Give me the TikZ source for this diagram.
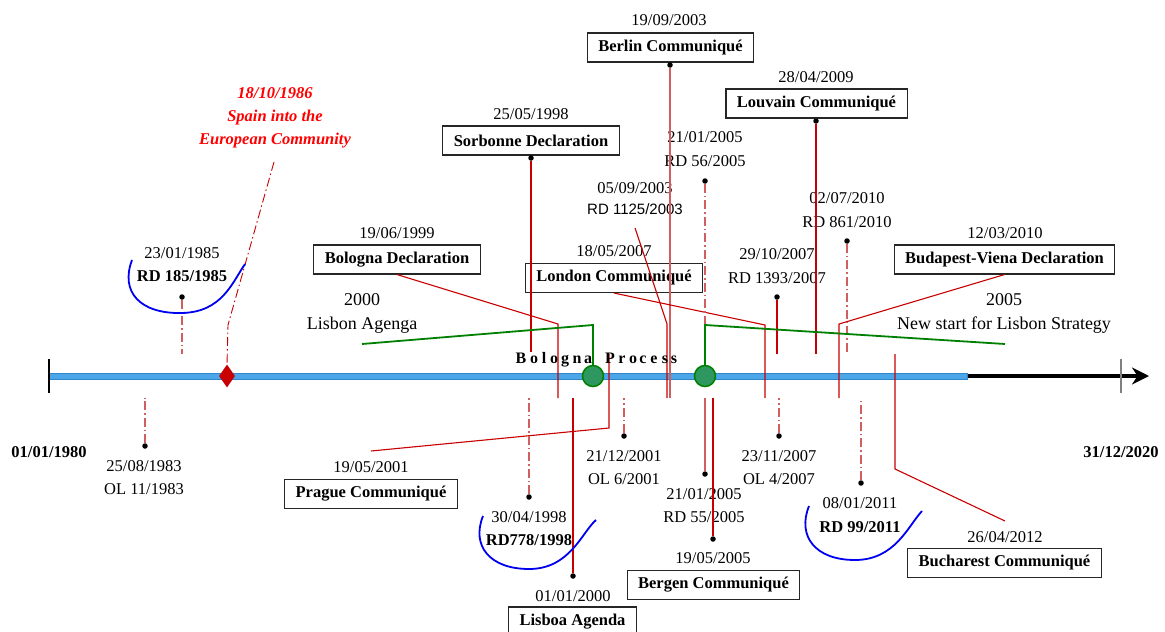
\documentclass[tikz,border=0pt]{standalone}
\usepackage{fontspec}
\setmainfont{Liberation Serif}
\newfontfamily\arialf{Liberation Sans}
\usetikzlibrary{arrows.meta,shapes.geometric}
\definecolor{dred}{RGB}{200,0,0}
\definecolor{lred}{RGB}{210,95,95}
\definecolor{barblue}{RGB}{77,166,232}
\definecolor{barborder}{RGB}{45,135,205}
\definecolor{gline}{RGB}{0,128,0}
\definecolor{gfill}{RGB}{46,150,95}
\definecolor{arcblue}{RGB}{0,0,240}
\begin{document}
\begin{tikzpicture}[x=1pt,y=-1pt,
  lbl/.style={font=\fontsize{16.5}{20}\selectfont, inner sep=0pt},
  blbl/.style={font=\fontsize{16.5}{20}\selectfont\bfseries, inner sep=0pt},
  big/.style={font=\fontsize{18}{22}\selectfont, inner sep=0pt},
  slbl/.style={font=\arialf\fontsize{15}{18}\selectfont, inner sep=0pt},
  bbox/.style={draw=black!85, line width=1.1pt, fill=white, font=\fontsize{16.5}{20}\selectfont\bfseries, inner xsep=11pt, inner ysep=0pt, minimum height=29pt},
  dot/.style={circle, fill=black, inner sep=0pt, minimum size=5.5pt},
  conn/.style={draw=dred, line width=1.1pt},
  connl/.style={draw=lred, line width=1.7pt},
  dd/.style={draw=lred, line width=1.3pt, dash pattern=on 9pt off 3pt on 1.5pt off 3pt},
  ddk/.style={draw=dred, line width=0.9pt, dash pattern=on 9pt off 3pt on 1.5pt off 3pt},
  gl/.style={draw=gline, line width=1.8pt},
  gcirc/.style={circle, fill=gfill, draw=gline, line width=1.5pt, minimum size=21pt, inner sep=0pt},
  arc/.style={draw=arcblue, line width=1.8pt},
  bp/.style={font=\fontsize{16}{18}\selectfont\bfseries, inner sep=0pt, anchor=base}
]
\useasboundingbox (0,0) rectangle (1165,632);
\fill[white] (0,0) rectangle (1165,632);

% axis
\coordinate (axB) at (967,376);
\coordinate (axE) at (1149,376);
\draw[line width=3.5pt, -{Stealth[length=17pt,width=17pt]}] (axB) -- (axE);
\draw[fill=barblue, draw=barborder, line width=0.8pt] (49,373) rectangle (967,379);
\draw[line width=1.4pt] (49,359) -- (49,393);
\draw[gray, line width=2pt] (1121,359) -- (1121,393);

% end labels
\node[blbl] (start) at (49,452) {01/01/1980};
\node[blbl] (end) at (1121,452) {31/12/2020};

% boxes and dates
\node[bbox] (berlin) at (670.5,47.5) {Berlin Communiqué};
\node[lbl] (tberlin) at (669,20) {19/09/2003};
\node[bbox] (sorb) at (531,140.5) {Sorbonne Declaration};
\node[lbl] (tsorb) at (531,114) {25/05/1998};
\node[bbox] (bol) at (397,259.5) {Bologna Declaration};
\node[lbl] (tbol) at (397,233) {19/06/1999};
\node[bbox] (lon) at (614,278) {London Communiqué};
\node[lbl] (tlon) at (614,251) {18/05/2007};
\node[bbox] (lou) at (816.5,103.5) {Louvain Communiqué};
\node[lbl] (tlou) at (816,77) {28/04/2009};
\node[bbox] (bud) at (1004.5,259.5) {Budapest-Viena Declaration};
\node[lbl] (tbud) at (1005,233) {12/03/2010};
\node[bbox] (pra) at (371,494) {Prague Communiqué};
\node[lbl] (tpra) at (371,467) {19/05/2001};
\node[bbox] (lis) at (572.5,621.5) {Lisboa Agenda};
\node[lbl] (tlis) at (573,596) {01/01/2000};
\node[bbox] (ber) at (713.5,585) {Bergen Communiqué};
\node[lbl] (tber) at (713,558) {19/05/2005};
\node[bbox] (buc) at (1004.5,563) {Bucharest Communiqué};
\node[lbl] (tbuc) at (1005,537) {26/04/2012};

% other annotations
\node[lbl] (a185a) at (182,253) {23/01/1985};
\node[blbl] (a185b) at (182,276) {RD 185/1985};
\node[lbl] (a1983a) at (144,466) {25/08/1983};
\node[lbl] (a1983b) at (144,489) {OL 11/1983};
\node[lbl] (a1998a) at (529,517) {30/04/1998};
\node[blbl] (a1998b) at (529,540) {RD778/1998};
\node[lbl] (a2001a) at (624,456) {21/12/2001};
\node[lbl] (a2001b) at (624,479) {OL 6/2001};
\node[lbl] (a55a) at (704,494) {21/01/2005};
\node[lbl] (a55b) at (704,517) {RD 55/2005};
\node[lbl] (a56a) at (705,137) {21/01/2005};
\node[lbl] (a56b) at (705,161) {RD 56/2005};
\node[lbl] (a1125a) at (635,188) {05/09/2003};
\node[slbl] (a1125b) at (635,209) {RD 1125/2003};
\node[lbl] (a1393a) at (777,254) {29/10/2007};
\node[lbl] (a1393b) at (777,278) {RD 1393/2007};
\node[lbl] (a4a) at (779,456) {23/11/2007};
\node[lbl] (a4b) at (779,479) {OL 4/2007};
\node[lbl] (a861a) at (847,198) {02/07/2010};
\node[lbl] (a861b) at (847,222) {RD 861/2010};
\node[lbl] (a99a) at (860,503) {08/01/2011};
\node[blbl] (a99b) at (860,527) {RD 99/2011};

\node[big] (y2000) at (362,300) {2000};
\node[big] (lisbon) at (362,325) {Lisbon Agenga};
\node[big] (y2005) at (1004,300) {2005};
\node[big] (newstart) at (1004,325) {New start for Lisbon Strategy};

\node[font=\fontsize{16.5}{23}\selectfont\bfseries\itshape, text=red, align=center, inner sep=0pt] (spaintxt) at (275,118) {18/10/1986\\Spain into the\\European Community};

% dots
\node[dot] (dberlin) at (670,65) {};
\node[dot] (dsorb) at (531,158) {};
\node[dot] (dlou) at (816,121) {};
\node[dot] (d185) at (182,297) {};
\node[dot] (d1983) at (145,446) {};
\node[dot] (d1998) at (529,497) {};
\node[dot] (d2001) at (624,436) {};
\node[dot] (d55) at (705,474) {};
\node[dot] (d56) at (705,181) {};
\node[dot] (d1393) at (777,297) {};
\node[dot] (d4) at (779,436) {};
\node[dot] (d861) at (847,241) {};
\node[dot] (d99) at (861,483) {};
\node[dot] (dlis) at (573,576) {};
\node[dot] (dber) at (713,539) {};

% connector coordinates
\coordinate (eBerlin) at (670,398);
\coordinate (eSorb) at (531,352);
\coordinate (eLou) at (816,354);
\coordinate (kBol) at (558,324); \coordinate (eBol) at (558,398);
\coordinate (kLon) at (765,325); \coordinate (eLon) at (765,398);
\coordinate (kBud) at (839,324); \coordinate (eBud) at (839,398);
\coordinate (sPra) at (371,451); \coordinate (kPra) at (609,428); \coordinate (ePra) at (609,354);
\coordinate (sBuc) at (1005,521); \coordinate (kBuc) at (895,469); \coordinate (eBuc) at (895,354);
\coordinate (eLis) at (573,398);
\coordinate (eBer) at (713,398);
\coordinate (e55) at (705,398);
\coordinate (s1125) at (635,228); \coordinate (k1125) at (667,324); \coordinate (e1125) at (667,398);
\coordinate (e1393) at (777,354);
\coordinate (e185) at (182,354);
\coordinate (e1983) at (145,398);
\coordinate (e1998) at (529,398);
\coordinate (e2001) at (624,398);
\coordinate (e56) at (705,354);
\coordinate (e4) at (779,398);
\coordinate (e861) at (847,354);
\coordinate (e99) at (861,398);
\coordinate (sp1) at (274,162); \coordinate (sp2) at (228,325);

% connectors
\draw[connl] (dberlin) -- (eBerlin);
\draw[conn] (dsorb) -- (eSorb);
\draw[conn] (dlou) -- (eLou);
\draw[conn] (bol.south) -- (kBol) -- (eBol);
\draw[conn] (lon.south) -- (kLon) -- (eLon);
\draw[conn] (bud.south) -- (kBud) -- (eBud);
\draw[conn] (sPra) -- (kPra) -- (ePra);
\draw[conn] (sBuc) -- (kBuc) -- (eBuc);
\draw[conn] (dlis) -- (eLis);
\draw[conn] (dber) -- (eBer);
\draw[connl] (d55) -- (e55);
\draw[conn] (s1125) -- (k1125) -- (e1125);
\draw[conn] (d1393) -- (e1393);
\draw[dd] (d185) -- (e185);
\draw[dd] (d1983) -- (e1983);
\draw[dd] (d1998) -- (e1998);
\draw[dd] (d2001) -- (e2001);
\draw[dd] (d56) -- (e56);
\draw[dd] (d4) -- (e4);
\draw[dd] (d861) -- (e861);
\draw[dd] (d99) -- (e99);

% Spain diamond
\node[diamond, fill=dred, minimum width=16pt, minimum height=23pt, inner sep=0pt] (spain) at (227,376) {};
\draw[ddk] (sp1) -- (sp2) -- (spain.north);

% green Lisbon lines and circles
\node[gcirc] (g1) at (593,376) {};
\node[gcirc] (g2) at (705,376) {};
\coordinate (gL1) at (362,344); \coordinate (gL2) at (593,325);
\coordinate (gR1) at (705,325); \coordinate (gR2) at (1005,344);
\draw[gl] (gL1) -- (gL2) -- (g1.north);
\draw[gl] (g2.north) -- (gR1) -- (gR2);

% Bologna Process letters
\foreach \c/\x [count=\i] in {B/521,o/534,l/544,o/554,g/565,n/577,a/588,P/610,r/622,o/633,c/643,e/654,s/665,s/674}
  \node[bp] (bp\i) at (\x,363) {\c};

% blue arcs
\draw[arc] (132,260) .. controls (120,292) and (140,314) .. (182,313) .. controls (222,312) and (232,283) .. (245,264);
\draw[arc] (483,516) .. controls (471,546) and (490,569) .. (529,569) .. controls (570,569) and (582,532) .. (596,520);
\draw[arc] (809,506) .. controls (797,536) and (815,560) .. (855,560) .. controls (895,560) and (908,526) .. (922,511);
\end{tikzpicture}
\end{document}
